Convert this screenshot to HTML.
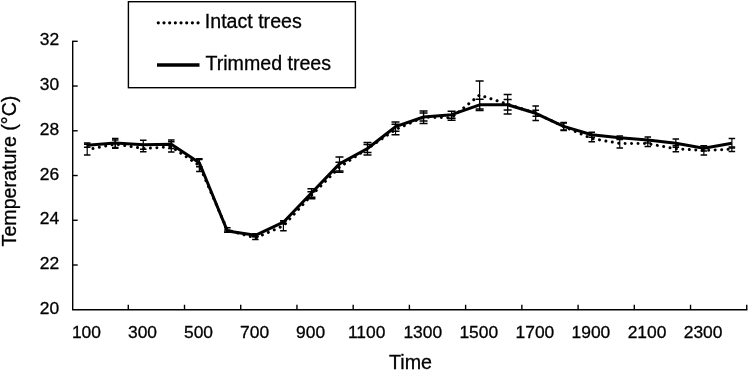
<!DOCTYPE html>
<html><head><meta charset="utf-8"><title>Temperature chart</title>
<style>
html,body{margin:0;padding:0;background:#fff;}
svg{display:block;}
text{font-family:"Liberation Sans",Arial,Helvetica,sans-serif;fill:#000;stroke:#000;stroke-width:0.3px;}
</style></head><body>
<svg width="749" height="371" viewBox="0 0 749 371">
<rect width="749" height="371" fill="#fff"/>

<g stroke="#000" stroke-width="1.4" fill="none">
<path d="M72.7 40.699999999999996V309.75H747.35"/>
<path d="M72.7 41.30h5"/>
<path d="M72.7 86.04h5"/>
<path d="M72.7 130.78h5"/>
<path d="M72.7 175.52h5"/>
<path d="M72.7 220.27h5"/>
<path d="M72.7 265.01h5"/>
<path d="M128.28 309.75v-5"/>
<path d="M184.50 309.75v-5"/>
<path d="M240.73 309.75v-5"/>
<path d="M296.95 309.75v-5"/>
<path d="M353.18 309.75v-5"/>
<path d="M409.40 309.75v-5"/>
<path d="M465.62 309.75v-5"/>
<path d="M521.85 309.75v-5"/>
<path d="M578.08 309.75v-5"/>
<path d="M634.30 309.75v-5"/>
<path d="M690.52 309.75v-5"/>
<path d="M746.75 309.75v-5"/>
</g>
<text x="59.2" y="45.3" font-size="17.4" text-anchor="end">32</text>
<text x="59.2" y="90.0" font-size="17.4" text-anchor="end">30</text>
<text x="59.2" y="134.8" font-size="17.4" text-anchor="end">28</text>
<text x="59.2" y="179.5" font-size="17.4" text-anchor="end">26</text>
<text x="59.2" y="224.3" font-size="17.4" text-anchor="end">24</text>
<text x="59.2" y="269.0" font-size="17.4" text-anchor="end">22</text>
<text x="59.2" y="313.8" font-size="17.4" text-anchor="end">20</text>
<text x="86.4" y="337.5" font-size="17.4" text-anchor="middle">100</text>
<text x="142.5" y="337.5" font-size="17.4" text-anchor="middle">300</text>
<text x="198.5" y="337.5" font-size="17.4" text-anchor="middle">500</text>
<text x="254.6" y="337.5" font-size="17.4" text-anchor="middle">700</text>
<text x="310.6" y="337.5" font-size="17.4" text-anchor="middle">900</text>
<text x="366.7" y="337.5" font-size="17.4" text-anchor="middle">1100</text>
<text x="422.8" y="337.5" font-size="17.4" text-anchor="middle">1300</text>
<text x="478.8" y="337.5" font-size="17.4" text-anchor="middle">1500</text>
<text x="534.9" y="337.5" font-size="17.4" text-anchor="middle">1700</text>
<text x="590.9" y="337.5" font-size="17.4" text-anchor="middle">1900</text>
<text x="647.0" y="337.5" font-size="17.4" text-anchor="middle">2100</text>
<text x="703.1" y="337.5" font-size="17.4" text-anchor="middle">2300</text>
<text x="410.5" y="369.3" font-size="19.7" text-anchor="middle">Time</text>
<text transform="translate(16.4 171.0) rotate(-90)" font-size="19.65" text-anchor="middle">Temperature (°C)</text>
<g stroke="#000" fill="none">
<path stroke-width="1.2" d="M87.20 144.30V154.90"/>
<path stroke-width="1.5" d="M83.95 144.30h6.5M83.95 154.90h6.5"/>
<path stroke-width="1.2" d="M87.20 143.10V147.30"/>
<path stroke-width="1.5" d="M83.95 143.10h6.5M83.95 147.30h6.5"/>
<path stroke-width="1.2" d="M115.23 140.00V148.20"/>
<path stroke-width="1.5" d="M111.98 140.00h6.5M111.98 148.20h6.5"/>
<path stroke-width="1.2" d="M115.23 138.60V147.60"/>
<path stroke-width="1.5" d="M111.98 138.60h6.5M111.98 147.60h6.5"/>
<path stroke-width="1.2" d="M143.26 145.20V151.80"/>
<path stroke-width="1.5" d="M140.01 145.20h6.5M140.01 151.80h6.5"/>
<path stroke-width="1.2" d="M143.26 140.30V149.30"/>
<path stroke-width="1.5" d="M140.01 140.30h6.5M140.01 149.30h6.5"/>
<path stroke-width="1.2" d="M171.29 141.70V151.90"/>
<path stroke-width="1.5" d="M168.04 141.70h6.5M168.04 151.90h6.5"/>
<path stroke-width="1.2" d="M171.29 140.10V148.50"/>
<path stroke-width="1.5" d="M168.04 140.10h6.5M168.04 148.50h6.5"/>
<path stroke-width="1.2" d="M199.32 159.60V171.40"/>
<path stroke-width="1.5" d="M196.07 159.60h6.5M196.07 171.40h6.5"/>
<path stroke-width="1.2" d="M199.32 158.80V166.80"/>
<path stroke-width="1.5" d="M196.07 158.80h6.5M196.07 166.80h6.5"/>
<path stroke-width="1.2" d="M227.35 227.70V232.30"/>
<path stroke-width="1.5" d="M224.10 227.70h6.5M224.10 232.30h6.5"/>
<path stroke-width="1.2" d="M227.35 230.00V232.00"/>
<path stroke-width="1.5" d="M224.10 230.00h6.5M224.10 232.00h6.5"/>
<path stroke-width="1.2" d="M255.38 236.40V239.60"/>
<path stroke-width="1.5" d="M252.13 236.40h6.5M252.13 239.60h6.5"/>
<path stroke-width="1.2" d="M255.38 233.80V236.80"/>
<path stroke-width="1.5" d="M252.13 233.80h6.5M252.13 236.80h6.5"/>
<path stroke-width="1.2" d="M283.41 220.90V230.70"/>
<path stroke-width="1.5" d="M280.16 220.90h6.5M280.16 230.70h6.5"/>
<path stroke-width="1.2" d="M283.41 220.70V223.70"/>
<path stroke-width="1.5" d="M280.16 220.70h6.5M280.16 223.70h6.5"/>
<path stroke-width="1.2" d="M311.44 191.80V198.80"/>
<path stroke-width="1.5" d="M307.44 191.80h8.0M307.44 198.80h8.0"/>
<path stroke-width="1.2" d="M311.44 188.80V197.20"/>
<path stroke-width="1.5" d="M307.44 188.80h8.0M307.44 197.20h8.0"/>
<path stroke-width="1.2" d="M339.47 162.20V172.20"/>
<path stroke-width="1.5" d="M335.47 162.20h8.0M335.47 172.20h8.0"/>
<path stroke-width="1.2" d="M339.47 156.90V170.90"/>
<path stroke-width="1.5" d="M335.47 156.90h8.0M335.47 170.90h8.0"/>
<path stroke-width="1.2" d="M367.50 142.40V155.00"/>
<path stroke-width="1.5" d="M363.50 142.40h8.0M363.50 155.00h8.0"/>
<path stroke-width="1.2" d="M367.50 144.50V152.50"/>
<path stroke-width="1.5" d="M363.50 144.50h8.0M363.50 152.50h8.0"/>
<path stroke-width="1.2" d="M395.53 124.20V134.80"/>
<path stroke-width="1.5" d="M391.53 124.20h8.0M391.53 134.80h8.0"/>
<path stroke-width="1.2" d="M395.53 122.10V131.30"/>
<path stroke-width="1.5" d="M391.53 122.10h8.0M391.53 131.30h8.0"/>
<path stroke-width="1.2" d="M423.56 111.00V123.40"/>
<path stroke-width="1.5" d="M419.56 111.00h8.0M419.56 123.40h8.0"/>
<path stroke-width="1.2" d="M423.56 113.00V121.00"/>
<path stroke-width="1.5" d="M419.56 113.00h8.0M419.56 121.00h8.0"/>
<path stroke-width="1.2" d="M451.59 115.20V120.20"/>
<path stroke-width="1.5" d="M447.59 115.20h8.0M447.59 120.20h8.0"/>
<path stroke-width="1.2" d="M451.59 111.20V118.20"/>
<path stroke-width="1.5" d="M447.59 111.20h8.0M447.59 118.20h8.0"/>
<path stroke-width="1.2" d="M479.62 81.00V109.00"/>
<path stroke-width="1.5" d="M475.62 81.00h8.0M475.62 109.00h8.0"/>
<path stroke-width="1.2" d="M479.62 99.20V110.40"/>
<path stroke-width="1.5" d="M475.62 99.20h8.0M475.62 110.40h8.0"/>
<path stroke-width="1.2" d="M507.65 94.40V114.00"/>
<path stroke-width="1.5" d="M503.65 94.40h8.0M503.65 114.00h8.0"/>
<path stroke-width="1.2" d="M507.65 99.60V110.00"/>
<path stroke-width="1.5" d="M503.65 99.60h8.0M503.65 110.00h8.0"/>
<path stroke-width="1.2" d="M535.68 110.20V116.20"/>
<path stroke-width="1.5" d="M532.43 110.20h6.5M532.43 116.20h6.5"/>
<path stroke-width="1.2" d="M535.68 106.10V120.50"/>
<path stroke-width="1.5" d="M532.43 106.10h6.5M532.43 120.50h6.5"/>
<path stroke-width="1.2" d="M563.71 123.00V130.00"/>
<path stroke-width="1.5" d="M560.46 123.00h6.5M560.46 130.00h6.5"/>
<path stroke-width="1.2" d="M563.71 122.40V130.40"/>
<path stroke-width="1.5" d="M560.46 122.40h6.5M560.46 130.40h6.5"/>
<path stroke-width="1.2" d="M591.74 135.20V141.80"/>
<path stroke-width="1.5" d="M588.49 135.20h6.5M588.49 141.80h6.5"/>
<path stroke-width="1.2" d="M591.74 132.30V137.30"/>
<path stroke-width="1.5" d="M588.49 132.30h6.5M588.49 137.30h6.5"/>
<path stroke-width="1.2" d="M619.77 138.80V148.00"/>
<path stroke-width="1.5" d="M616.52 138.80h6.5M616.52 148.00h6.5"/>
<path stroke-width="1.2" d="M619.77 136.00V139.40"/>
<path stroke-width="1.5" d="M616.52 136.00h6.5M616.52 139.40h6.5"/>
<path stroke-width="1.2" d="M647.80 140.60V146.60"/>
<path stroke-width="1.5" d="M644.55 140.60h6.5M644.55 146.60h6.5"/>
<path stroke-width="1.2" d="M647.80 136.90V142.90"/>
<path stroke-width="1.5" d="M644.55 136.90h6.5M644.55 142.90h6.5"/>
<path stroke-width="1.2" d="M675.83 145.80V151.80"/>
<path stroke-width="1.5" d="M672.58 145.80h6.5M672.58 151.80h6.5"/>
<path stroke-width="1.2" d="M675.83 139.10V147.30"/>
<path stroke-width="1.5" d="M672.58 139.10h6.5M672.58 147.30h6.5"/>
<path stroke-width="1.2" d="M703.86 145.80V155.00"/>
<path stroke-width="1.5" d="M700.61 145.80h6.5M700.61 155.00h6.5"/>
<path stroke-width="1.2" d="M703.86 145.70V150.90"/>
<path stroke-width="1.5" d="M700.61 145.70h6.5M700.61 150.90h6.5"/>
<path stroke-width="1.2" d="M731.89 146.90V151.50"/>
<path stroke-width="1.5" d="M728.64 146.90h6.5M728.64 151.50h6.5"/>
<path stroke-width="1.2" d="M731.89 138.50V148.10"/>
<path stroke-width="1.5" d="M728.64 138.50h6.5M728.64 148.10h6.5"/>
</g>
<polyline points="87.20,149.60 115.23,144.10 143.26,148.50 171.29,146.80 199.32,165.50 227.35,230.00 255.38,238.00 283.41,225.80 311.44,195.30 339.47,167.20 367.50,148.70 395.53,129.50 423.56,117.20 451.59,117.70 479.62,95.00 507.65,104.20 535.68,113.20 563.71,126.50 591.74,138.50 619.77,143.40 647.80,143.60 675.83,148.80 703.86,150.40 731.89,149.20" fill="none" stroke="#000" stroke-width="3.0" stroke-linecap="round" stroke-linejoin="round" stroke-dasharray="0.01 6.46" stroke-dashoffset="0.6"/>
<polyline points="87.20,145.20 115.23,143.10 143.26,144.80 171.29,144.30 199.32,162.80 227.35,231.00 255.38,235.30 283.41,222.20 311.44,193.00 339.47,163.90 367.50,148.50 395.53,126.70 423.56,117.00 451.59,114.70 479.62,104.80 507.65,104.80 535.68,113.30 563.71,126.40 591.74,134.80 619.77,137.70 647.80,139.90 675.83,143.20 703.86,148.30 731.89,143.30" fill="none" stroke="#000" stroke-width="3.0" stroke-linejoin="round" stroke-linecap="butt"/>
<rect x="128.4" y="1.7" width="227" height="86" fill="#fff" stroke="#000" stroke-width="1.4"/>
<path d="M158.3 22.8H200" fill="none" stroke="#000" stroke-width="3.2" stroke-linecap="round" stroke-dasharray="0.01 5.67"/>
<path d="M157 65H199.5" fill="none" stroke="#000" stroke-width="3.4"/>
<text x="204.8" y="27.5" font-size="19.6">Intact trees</text>
<text x="205.5" y="70.1" font-size="19.6">Trimmed trees</text>
</svg></body></html>
